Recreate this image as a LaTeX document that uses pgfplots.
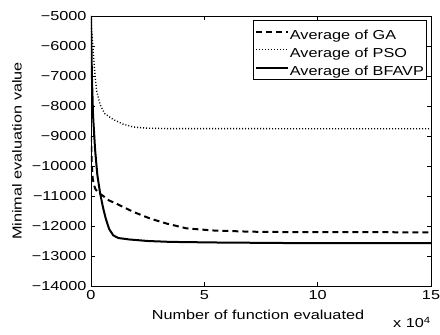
\documentclass[border=0pt]{standalone}
\usepackage{fontspec}
\setmainfont{Liberation Sans}[FakeStretch=1.25]
\usepackage{pgfplots}
\pgfplotsset{compat=1.18}
\usetikzlibrary{calc}

\begin{document}
\begin{tikzpicture}
\begin{axis}[
  scale only axis,
  width=340bp, height=270bp,
  xmin=0, xmax=150000,
  ymin=-14000, ymax=-5000,
  xtick={0,50000,100000,150000},
  xticklabels={0,5,10,15},
  scaled x ticks=false,
  scaled y ticks=false,
  ytick={-14000,-13000,...,-5000},
  yticklabels={−14000,−13000,−12000,−11000,−10000,−9000,−8000,−7000,−6000,−5000},
  tick align=inside,
  major tick length=4bp,
  tick style={line width=0.6bp, black},
  axis line style={line width=0.8bp},
  ticklabel style={font=\fontsize{13bp}{15bp}\selectfont},
  xticklabel style={yshift=-1bp},
  yticklabel style={xshift=-1bp},
  xlabel={Number of function evaluated},
  ylabel={Minimal evaluation value},
  label style={font=\fontsize{13bp}{15bp}\selectfont},
  xlabel style={at={(axis description cs:0.5,0)}, anchor=base, yshift=-34bp, xshift=-3bp},
  ylabel style={at={(axis description cs:0,0.5)}, anchor=center, yshift=74bp},
  legend cell align=left,
  legend image code/.code={\draw[#1] (0bp,0bp) -- (32bp,0bp);},
  legend style={
    at={(rel axis cs:1,1)}, anchor=north east, xshift=-4.3bp, yshift=-4bp,
    font=\fontsize{13bp}{15bp}\selectfont,
    draw=black, line width=0.6bp,
    inner xsep=1.5bp, inner ysep=2.5bp,
    row sep=0bp,
    nodes={inner xsep=1bp, inner ysep=1bp, text height=15.5bp, text depth=0.5bp},
  },
]
% GA average
\addplot[black, line width=2bp, dash pattern=on 6bp off 4bp] coordinates {
  (0,-9000) (300,-9900) (800,-10450) (1800,-10750) (3000,-10880)
  (5400,-11000) (8000,-11150) (11300,-11260) (18700,-11530)
  (26000,-11750) (33400,-11920) (42200,-12080) (54000,-12150)
  (70000,-12190) (90000,-12205) (150000,-12210)
};
\addlegendentry{Average of GA}
% PSO average
\addplot[black, line width=1.4bp, dash pattern=on 1bp off 2bp] coordinates {
  (0,-5100) (300,-5500) (1000,-6200) (1800,-7000) (2500,-7500)
  (4000,-7950) (6000,-8250) (9800,-8450) (14000,-8600)
  (18700,-8700) (25000,-8740) (35000,-8755) (150000,-8760)
};
\addlegendentry{Average of PSO}
% BFAVP average
\addplot[black, line width=2bp] coordinates {
  (0,-5000) (400,-7000) (900,-8300) (1800,-9450) (2800,-10300)
  (4000,-10900) (5200,-11350) (6500,-11750) (8000,-12100)
  (9800,-12310) (12000,-12400) (17000,-12450) (25000,-12500)
  (35000,-12530) (55000,-12550) (90000,-12570) (150000,-12575)
};
\addlegendentry{Average of BFAVP}
\end{axis}
\node[anchor=base west, inner sep=0pt, font=\fontsize{13bp}{15bp}\selectfont]
  at ($(current axis.south east)+(-38bp,-42bp)$) {x 10\textsuperscript{4}};
\pgfresetboundingbox
\useasboundingbox ($(current axis.south west)+(-91bp,-49bp)$) rectangle ($(current axis.north east)+(9bp,16bp)$);
\end{tikzpicture}
\end{document}
